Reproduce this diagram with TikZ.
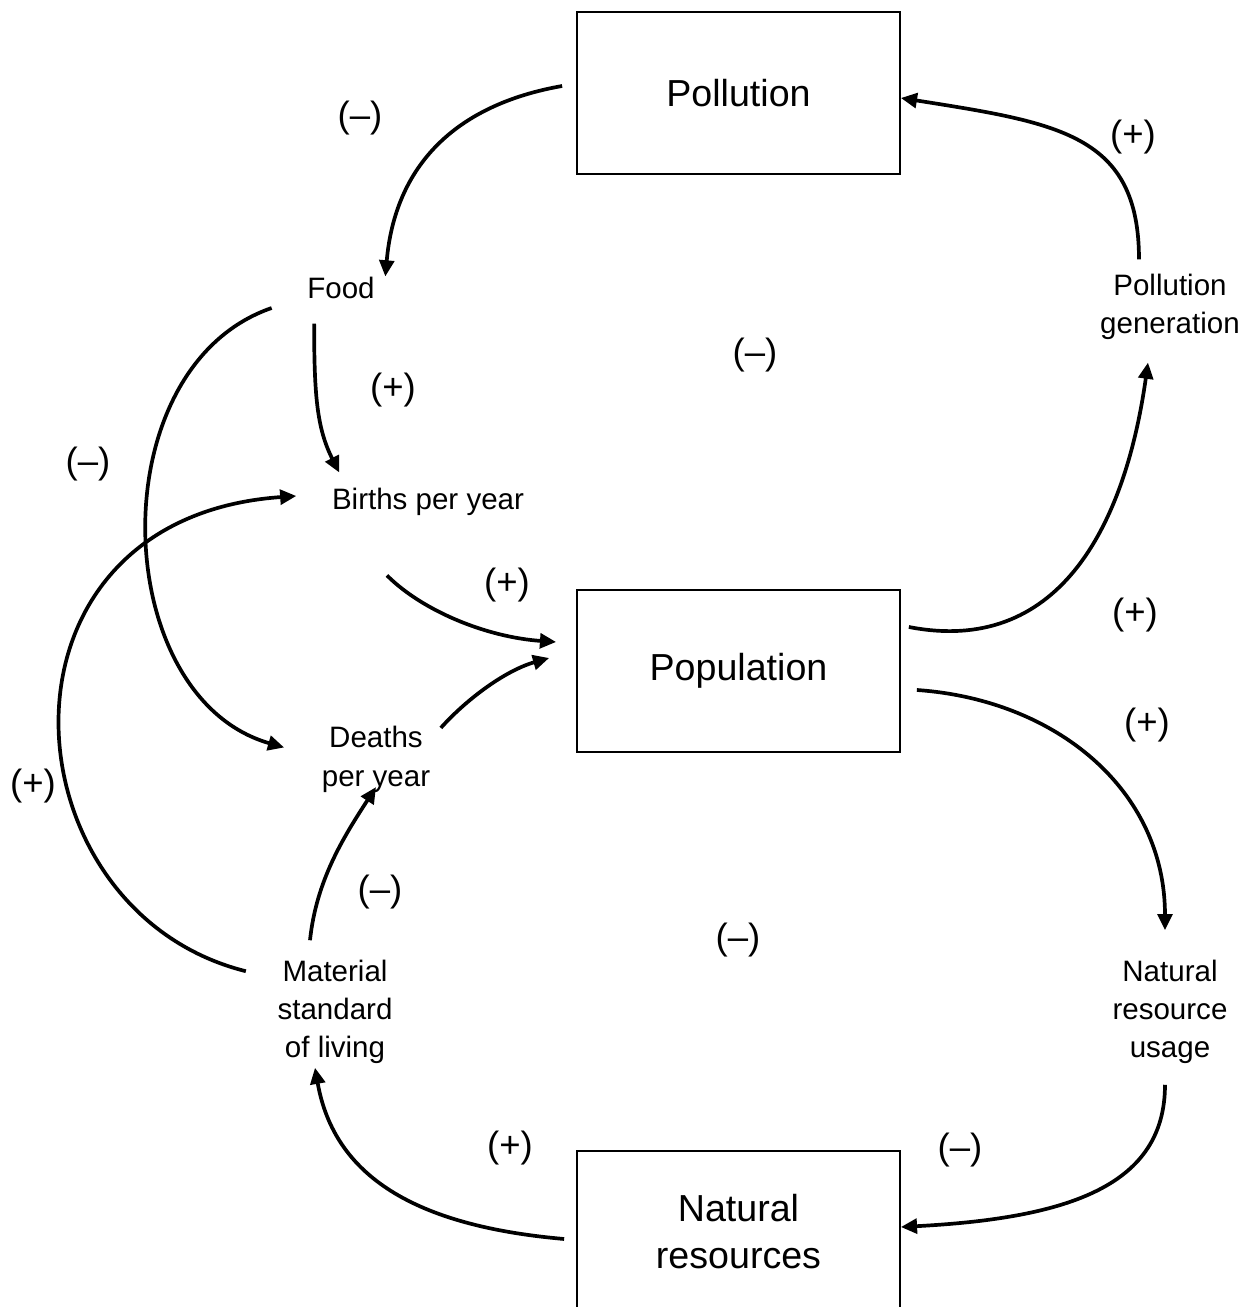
\documentclass[tikz,border=0pt]{standalone}
\usepackage{fontspec}
\setmainfont{Liberation Sans}
\usetikzlibrary{arrows.meta}
\tikzset{
    block/.style={draw, line width=0.5pt, minimum width=3.23cm, minimum height=1.62cm, align=center, font=\fontsize{10.7}{13.4}\selectfont},
    var/.style={inner sep=0pt, align=center, font=\fontsize{8.4}{10.9}\selectfont},
    sign/.style={inner sep=0pt, font=\fontsize{10.4}{12}\selectfont},
    link/.style={line width=1.05pt, -{Triangle[length=4.6pt,width=4.2pt]}},
}
\begin{document}
\begin{tikzpicture}
        \useasboundingbox (0,0) rectangle (12.51,13.07);

        \node[block] (pollution) at (7.385,12.14) {Pollution};
        \node[block] (population) at (7.385,6.36) {Population};
        \node[block] (resources) at (7.385,0.75) {Natural\\resources};

        \node[var] (food) at (3.41,10.19) {Food};
        \node[var] (births) at (4.28,8.05) {Births per year};
        \node[var] (deaths) at (3.76,5.475) {Deaths\\per year};
        \node[var] (material) at (3.35,2.95) {Material\\standard\\of living};
        \node[var] (usage) at (11.70,2.95) {Natural\\resource\\usage};
        \node[var] (pgen) at (11.70,10.00) {Pollution\\generation};

        \node[sign] (s1) at (3.60,11.89) {(–)};
        \node[sign] (s2) at (11.33,11.70) {(+)};
        \node[sign] (s3) at (7.55,9.52) {(–)};
        \node[sign] (s4) at (3.93,9.17) {(+)};
        \node[sign] (s5) at (0.88,8.43) {(–)};
        \node[sign] (s6) at (5.07,7.22) {(+)};
        \node[sign] (s7) at (11.35,6.92) {(+)};
        \node[sign] (s8) at (11.47,5.82) {(+)};
        \node[sign] (s9) at (0.33,5.21) {(+)};
        \node[sign] (s10) at (3.80,4.15) {(–)};
        \node[sign] (s11) at (7.38,3.67) {(–)};
        \node[sign] (s12) at (5.10,1.59) {(+)};
        \node[sign] (s13) at (9.60,1.57) {(–)};

        \draw[link] ([xshift=-1.4mm,yshift=0.7mm]pollution.west) .. controls +(190:1.1) and +(85:1.1) .. ([xshift=1mm]food.north east);
        \draw[link] ([xshift=-3.1mm,yshift=1.4mm]pgen.north) .. controls +(90:1.25) and +(-9:1.6) .. ([yshift=-0.5mm]pollution.east);
        \draw[link] ([xshift=0.75mm,yshift=-2.4mm]food.south west) .. controls +(-90:0.7) and +(117:0.5) .. ([xshift=0.8mm,yshift=1.5mm]births.north west);
        \draw[link] ([xshift=-3.5mm,yshift=-2mm]food.west) .. controls +(199:1.83) and +(164:1.83) .. ([xshift=-3.7mm,yshift=1.2mm]deaths.west);
        \draw[link] ([xshift=-3.1mm,yshift=-1.2mm]material.north west) .. controls +(166:2.5) and +(184:3.2) .. ([xshift=-3.5mm,yshift=0.6mm]births.west);
        \draw[link] ([xshift=-4.1mm,yshift=-5.9mm]births.south) .. controls +(-45:0.5) and +(176:0.7) .. ([xshift=-2mm,yshift=2.9mm]population.west);
        \draw[link] ([xshift=1mm,yshift=-0.2mm]deaths.north east) .. controls +(48:0.4) and +(196:0.45) .. ([xshift=-2.7mm,yshift=1.3mm]population.west);
        \draw[link] ([xshift=-2.5mm,yshift=1.9mm]material.north) .. controls +(84:0.6) and +(237:0.6) .. ([yshift=0.6mm]deaths.south);
        \draw[link] ([xshift=0.8mm,yshift=4.4mm]population.east) .. controls +(-11:1.5) and +(262:1.7) .. ([xshift=-2.2mm,yshift=-2.2mm]pgen.south);
        \draw[link] ([xshift=1.6mm,yshift=-1.9mm]population.east) .. controls +(-4:1.4) and +(90:1.4) .. ([xshift=-0.5mm,yshift=2.9mm]usage.north);
        \draw[link] ([xshift=-0.5mm,yshift=-2mm]usage.south) .. controls +(-90:1.0) and +(3:1.7) .. ([yshift=0.5mm]resources.east);
        \draw[link] ([xshift=-1.2mm,yshift=-0.7mm]resources.west) .. controls +(175:1.5) and +(280:1.1) .. ([xshift=-2mm,yshift=-0.3mm]material.south);
    \end{tikzpicture}
\end{document}
